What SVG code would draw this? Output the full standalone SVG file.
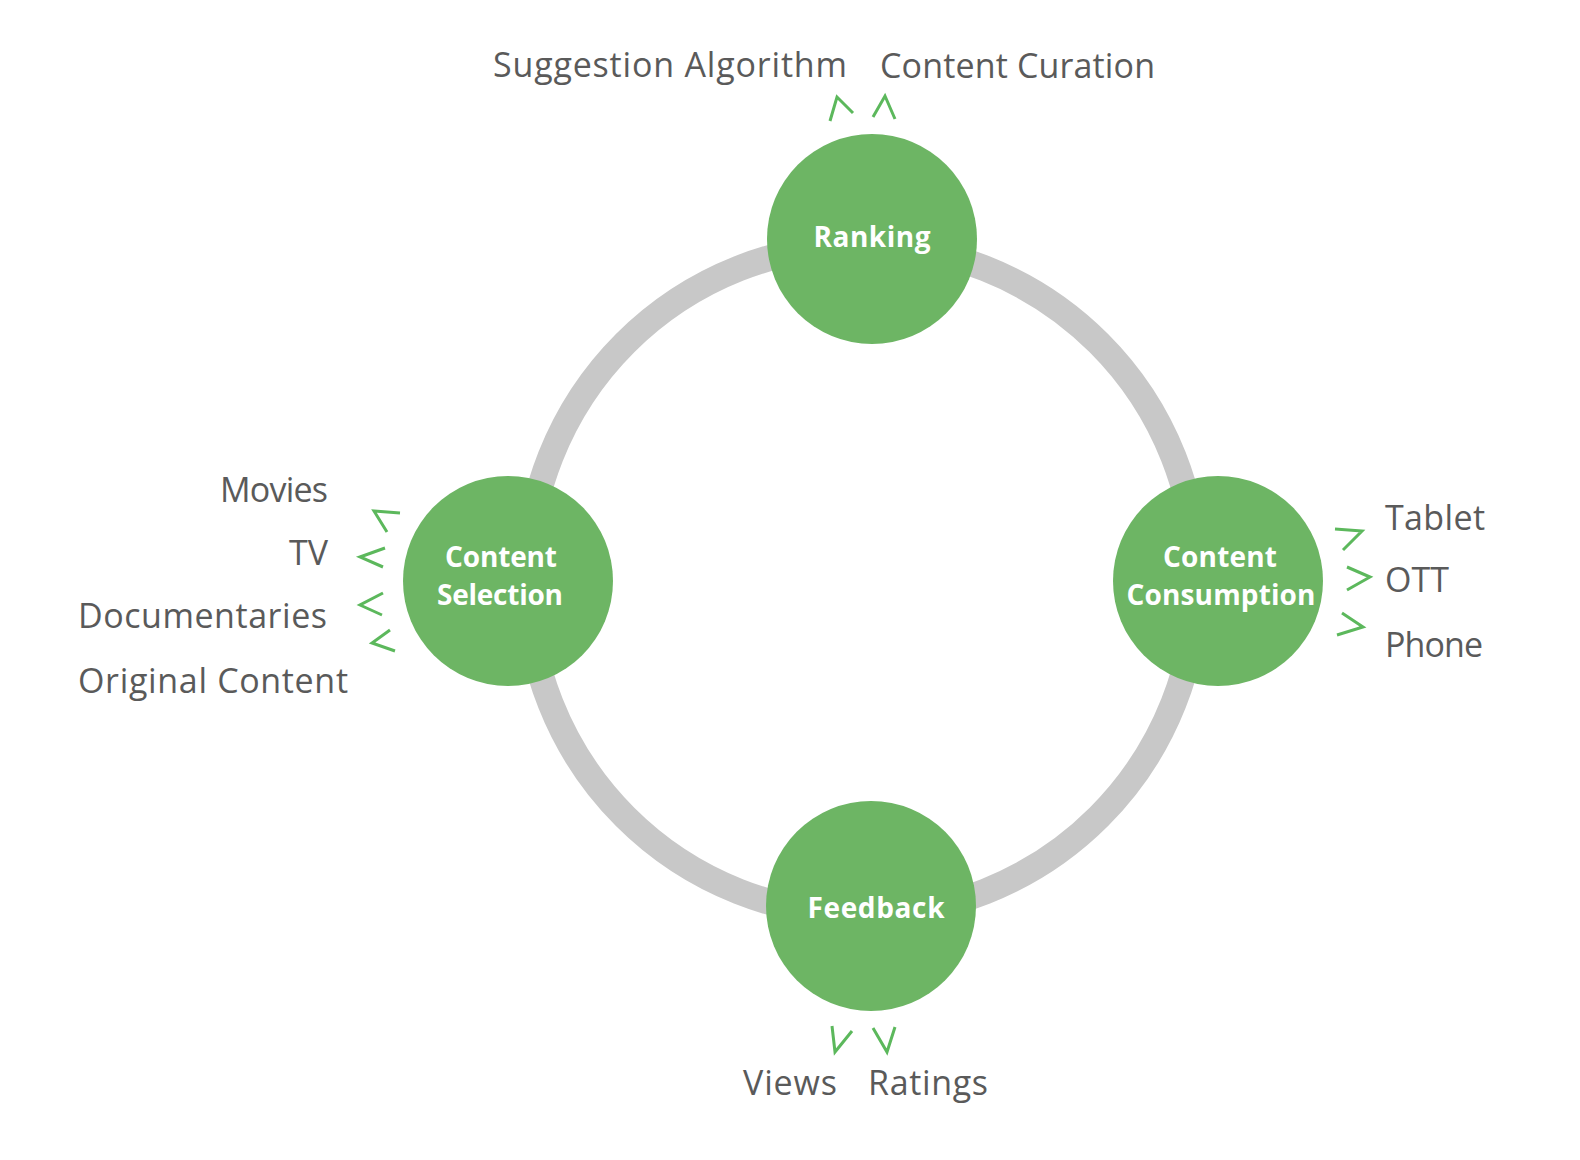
<svg xmlns="http://www.w3.org/2000/svg" width="1580" height="1160" viewBox="0 0 1580 1160">
<style>
.ring{fill:none;stroke:#c8c8c8;stroke-width:26}
.node{fill:#6db564}
.nl{font-family:"Open Sans","Liberation Sans",sans-serif;font-weight:700;font-size:28px;fill:#ffffff;text-anchor:middle}
.lb{font-family:"Open Sans","Liberation Sans",sans-serif;font-size:34px;fill:#5a5a5a}
.chev{fill:none;stroke:#5cb85c;stroke-width:3;stroke-linejoin:miter;stroke-linecap:butt}
</style>
<rect width="1580" height="1160" fill="#ffffff"/>
<g id="connectors">
<circle class="ring" cx="862" cy="580" r="335"/>
<polyline class="chev" points="400,513 374,511 387,532"/>
<polyline class="chev" points="385,548 360,557 383,567"/>
<polyline class="chev" points="383,593 360,605 382,615"/>
<polyline class="chev" points="390,630 372,643 395,651"/>
<polyline class="chev" points="830,121 837,97 853,113"/>
<polyline class="chev" points="873,117 885,96 895,119"/>
<polyline class="chev" points="1335,529 1362,531 1343,550"/>
<polyline class="chev" points="1347,567 1370,577 1347,590"/>
<polyline class="chev" points="1342,613 1363,627 1337,635"/>
<polyline class="chev" points="832,1026 835,1052 852,1031"/>
<polyline class="chev" points="873,1028 887,1052 895,1027"/>
</g>
<g id="ranking">
<circle class="node" cx="872" cy="239" r="105"/>
<text class="nl" x="872" y="247" textLength="117">Ranking</text>
</g>
<g id="content-selection">
<circle class="node" cx="508" cy="581" r="105"/>
<text class="nl" x="501" y="567" textLength="112">Content</text>
<text class="nl" x="500" y="605" textLength="126">Selection</text>
</g>
<g id="content-consumption">
<circle class="node" cx="1218" cy="581" r="105"/>
<text class="nl" x="1220" y="567" textLength="114">Content</text>
<text class="nl" x="1221" y="605" textLength="189">Consumption</text>
</g>
<g id="feedback">
<circle class="node" cx="871" cy="906" r="105"/>
<text class="nl" x="876" y="918" textLength="137">Feedback</text>
</g>
<g id="labels">
<text class="lb" x="493" y="77" textLength="354">Suggestion Algorithm</text>
<text class="lb" x="880" y="78" textLength="275">Content Curation</text>
<text class="lb" x="220" y="502" textLength="108">Movies</text>
<text class="lb" x="328" y="565" text-anchor="end">TV</text>
<text class="lb" x="78" y="628" textLength="249">Documentaries</text>
<text class="lb" x="78" y="693" textLength="270">Original Content</text>
<text class="lb" x="1385" y="530" textLength="100">Tablet</text>
<text class="lb" x="1385" y="592">OTT</text>
<text class="lb" x="1385" y="657" textLength="98">Phone</text>
<text class="lb" x="743" y="1095" textLength="94">Views</text>
<text class="lb" x="868" y="1095" textLength="120">Ratings</text>
</g>
</svg>
